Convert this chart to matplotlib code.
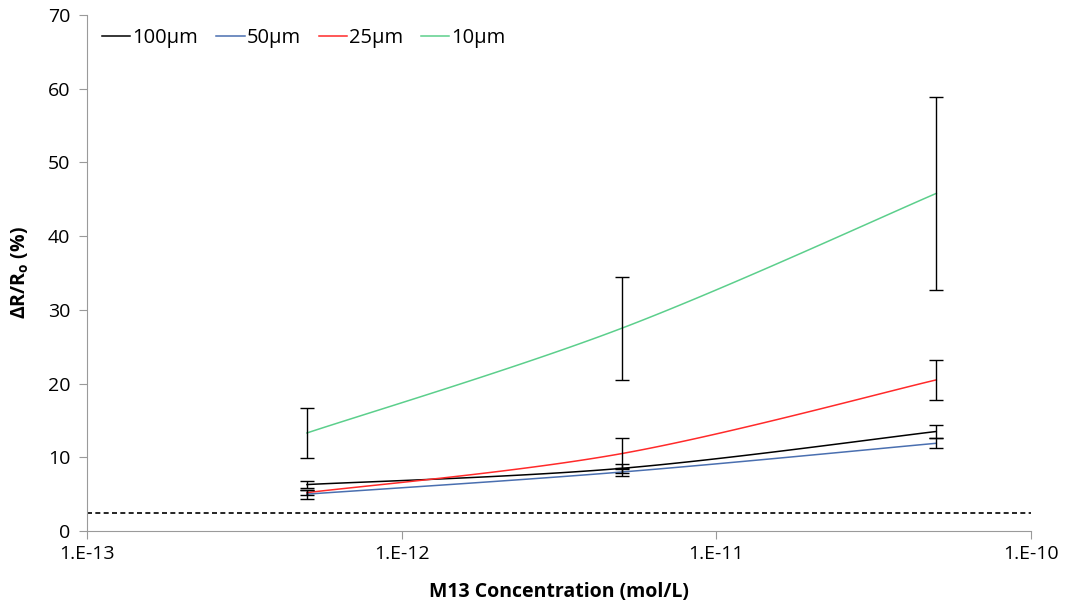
import numpy as np
import matplotlib
matplotlib.use("Agg")
import matplotlib.pyplot as plt

conc = [5e-13, 5e-12, 5e-11]
labels = ["100µm", "50µm", "25µm", "10µm"]
colors = ["#000000", "#4a6fb0", "#ff2a2a", "#5ccf8c"]
v100 = [6.3, 8.5, 13.5]
e100 = [0.5, 0.6, 0.9]
v50 = [5.0, 8.0, 11.9]
e50 = [0.6, 0.6, 0.7]
v25 = [5.2, 10.5, 20.5]
e25 = [0.3, 2.1, 2.7]
v10 = [13.3, 27.5, 45.8]
e10 = [3.4, 7.0, 13.1]
threshold = 2.5

series = [v100, v50, v25, v10]
errs = [e100, e50, e25, e10]

plt.rcParams['font.family'] = ['Open Sans', 'DejaVu Sans']

fig = plt.figure(figsize=(10.68, 6.03), dpi=100)
ax = fig.add_axes([87/1068, 1-531/603, (1031-87)/1068, (531-15)/603])


def smooth(xs, ys, n=60):
    # Catmull-Rom style Bezier smoothing in log-x space (like Excel smoothed lines)
    lx = np.log10(xs)
    P = np.column_stack([lx, ys])
    out = []
    for i in range(len(P) - 1):
        p0 = P[i - 1] if i > 0 else P[i]
        p1 = P[i]
        p2 = P[i + 1]
        p3 = P[i + 2] if i + 2 < len(P) else P[i + 1]
        c1 = p1 + (p2 - p0) / 6
        c2 = p2 - (p3 - p1) / 6
        t = np.linspace(0, 1, n)[:, None]
        seg = ((1 - t) ** 3) * p1 + 3 * ((1 - t) ** 2) * t * c1 + 3 * (1 - t) * t ** 2 * c2 + t ** 3 * p2
        out.append(seg if i == 0 else seg[1:])
    out = np.vstack(out)
    return 10 ** out[:, 0], out[:, 1]


for vals, er, c, lab in zip(series, errs, colors, labels):
    sx, sy = smooth(conc, vals)
    ax.plot(sx, sy, color=c, lw=1.1, label=lab, zorder=3)
    ax.errorbar(conc, vals, yerr=er, fmt='none', ecolor='black', elinewidth=1.0,
                capsize=5, capthick=1.0, zorder=4)

ax.axhline(threshold, color='black', ls=(0, (3, 2)), lw=1.2)

ax.set_xscale('log')
ax.set_xlim(1e-13, 1e-10)
ax.set_ylim(0, 70)
ax.set_yticks(range(0, 71, 10))
ax.set_xticks([1e-13, 1e-12, 1e-11, 1e-10])
ax.set_xticklabels(["1.E-13", "1.E-12", "1.E-11", "1.E-10"])
ax.minorticks_off()

for s in ['top', 'right']:
    ax.spines[s].set_visible(False)
for s in ['left', 'bottom']:
    ax.spines[s].set_color('#9a9a9a')
ax.tick_params(axis='both', colors='#9a9a9a', labelcolor='black', labelsize=14, length=6, direction='out')
ax.tick_params(axis='x', pad=4)
ax.tick_params(axis='y', pad=6)

ax.set_xlabel("M13 Concentration (mol/L)", fontsize=14, fontweight='bold', labelpad=14)
ax.set_ylabel(r"ΔR/R$_\mathregular{o}$ (%)", fontsize=14, fontweight='bold', labelpad=12)

leg = ax.legend(loc='upper left', ncol=4, frameon=False, fontsize=14.5, handlelength=1.4,
                handletextpad=0.1, columnspacing=0.9, bbox_to_anchor=(-0.003, 1.01))

fig.savefig("out.png", dpi=100)
